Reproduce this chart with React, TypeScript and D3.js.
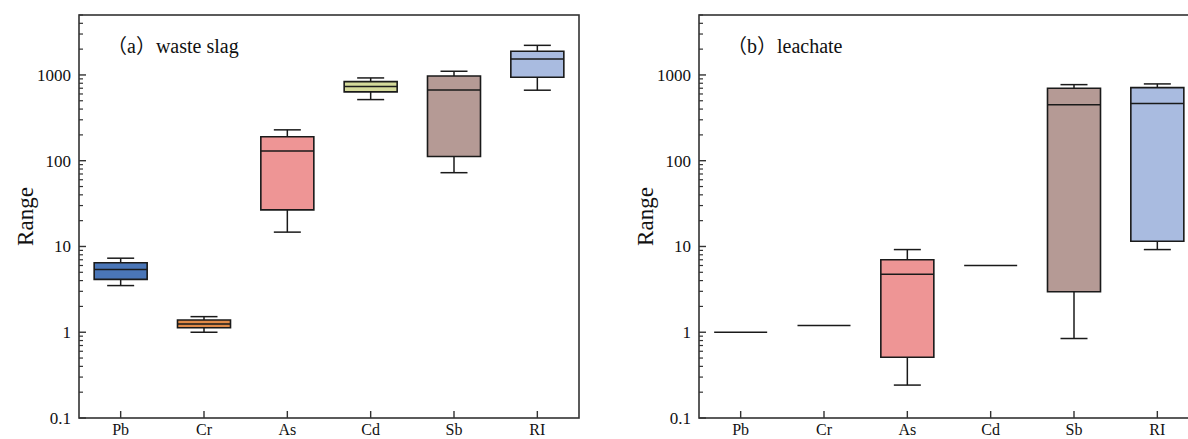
import React, { useEffect, useRef } from 'react';
import * as d3 from 'd3';

// categories and box colours
const elements = ['Pb', 'Cr', 'As', 'Cd', 'Sb', 'RI'];
const colors = ['#4A76B8', '#E08A48', '#EE9595', '#D4DA9A', '#B59A95', '#A9BBE0'];

// box stats: [min, q1, median, q3, max]
const slagStats = [
  [3.5, 4.13, 5.4, 6.46, 7.3],
  [1.0, 1.13, 1.25, 1.39, 1.52],
  [14.7, 26.7, 130, 190, 229],
  [516, 635, 731, 836, 923],
  [72.5, 112, 669, 973, 1104],
  [664, 940, 1535, 1888, 2214],
];
const leachStats = [
  [1, 1, 1, 1, 1],
  [1.2, 1.2, 1.2, 1.2, 1.2],
  [0.242, 0.51, 4.73, 7.0, 9.2],
  [6.0, 6.0, 6.0, 6.0, 6.0],
  [0.845, 2.97, 448, 700, 771],
  [9.2, 11.5, 464, 712, 786],
];
const majorTicks = [0.1, 1, 10, 100, 1000];
const panels = [
  { title: '（a）waste slag', stats: slagStats, left: 79 },
  { title: '（b）leachate', stats: leachStats, left: 699 },
];

const W = 1188, H = 439;
const top = 15, bottom = 418, plotW = 500;
const serif = '"Liberation Serif", "Times New Roman", "Noto Sans CJK SC", serif';

const draw = (node) => {
  const root = d3.select(node);
  root.selectAll('*').remove();

  const y = d3.scaleLog().domain([0.1, 5000]).range([bottom, top]);
  const minor = [];
  [0.1, 1, 10, 100, 1000].forEach(d => {
    for (let k = 2; k <= 9; k++) if (d * k <= 5000) minor.push(d * k);
  });

  panels.forEach(p => {
    const g = root.append('g').attr('transform', 'translate(' + p.left + ',0)');
    const x = d3.scaleBand().domain(elements).range([0, plotW]).padding(0);
    const boxW = 53, capW = 27;
    const stroke = '#1a1a1a';

    // boxes
    p.stats.forEach((s, i) => {
      const cx = x(elements[i]) + x.bandwidth() / 2;
      const [mn, q1, md, q3, mx] = s.map(v => y(v));
      const flat = s[0] === s[4];
      if (!flat) {
        // whiskers and caps
        g.append('line').attr('x1', cx).attr('x2', cx).attr('y1', mx).attr('y2', q3)
          .attr('stroke', stroke).attr('stroke-width', 1.5);
        g.append('line').attr('x1', cx).attr('x2', cx).attr('y1', q1).attr('y2', mn)
          .attr('stroke', stroke).attr('stroke-width', 1.5);
        g.append('line').attr('x1', cx - capW / 2).attr('x2', cx + capW / 2).attr('y1', mx).attr('y2', mx)
          .attr('stroke', stroke).attr('stroke-width', 1.5);
        g.append('line').attr('x1', cx - capW / 2).attr('x2', cx + capW / 2).attr('y1', mn).attr('y2', mn)
          .attr('stroke', stroke).attr('stroke-width', 1.5);
      }
      const x0 = cx - boxW / 2, x1 = cx + boxW / 2;
      if (flat) {
        g.append('line').attr('x1', x0).attr('x2', x1).attr('y1', md).attr('y2', md)
          .attr('stroke', stroke).attr('stroke-width', 1.5);
        return;
      }
      g.append('path')
        .attr('d', 'M' + x0 + ',' + q3 + 'H' + x1 + 'V' + q1 + 'H' + x0 + 'Z')
        .attr('fill', colors[i]).attr('stroke', stroke).attr('stroke-width', 1.6);
      g.append('line').attr('x1', x0).attr('x2', x1).attr('y1', md).attr('y2', md)
        .attr('stroke', stroke).attr('stroke-width', 1.5);
    });

    // frame
    g.append('rect').attr('x', 0).attr('y', top).attr('width', plotW).attr('height', bottom - top)
      .attr('fill', 'none').attr('stroke', '#333').attr('stroke-width', 1.6);

    // y ticks (inward)
    minor.forEach(v => {
      g.append('line').attr('x1', 0).attr('x2', 4).attr('y1', y(v)).attr('y2', y(v))
        .attr('stroke', '#333').attr('stroke-width', 1.2);
    });
    majorTicks.forEach(v => {
      g.append('line').attr('x1', 0).attr('x2', 7).attr('y1', y(v)).attr('y2', y(v))
        .attr('stroke', '#333').attr('stroke-width', 1.4);
      g.append('text').attr('x', -8).attr('y', y(v)).attr('dy', '0.35em')
        .attr('text-anchor', 'end').attr('font-family', serif).attr('font-size', 17)
        .attr('fill', '#111').text(String(v));
    });

    // x ticks (inward)
    elements.forEach(e => {
      const cx = x(e) + x.bandwidth() / 2;
      g.append('line').attr('x1', cx).attr('x2', cx).attr('y1', bottom).attr('y2', bottom - 7)
        .attr('stroke', '#333').attr('stroke-width', 1.4);
      g.append('text').attr('x', cx).attr('y', bottom + 17).attr('text-anchor', 'middle')
        .attr('font-family', serif).attr('font-size', 16).attr('fill', '#111').text(e);
    });

    // axis title
    g.append('text')
      .attr('transform', 'translate(-54,' + (top + bottom) / 2 + ') rotate(-90)')
      .attr('text-anchor', 'middle').attr('dy', '0.35em')
      .attr('font-family', serif).attr('font-size', 23).attr('fill', '#111').text('Range');

    // panel label
    g.append('text').attr('x', 28).attr('y', 53)
      .attr('font-family', serif).attr('font-size', 20).attr('fill', '#111').text(p.title);
  });
};

export default function App() {
  const ref = useRef(null);
  useEffect(() => { draw(ref.current); }, []);
  return (
    <svg ref={ref} width={W} height={H}
      style={{ position: 'absolute', left: 0, top: 0, background: '#fff' }} />
  );
}
